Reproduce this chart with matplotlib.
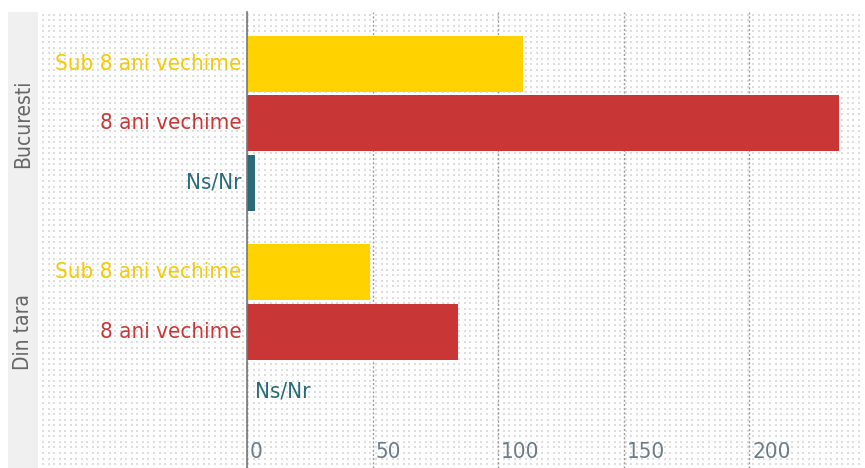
import numpy as np
import matplotlib
matplotlib.use("Agg")
import matplotlib.pyplot as plt
from matplotlib.transforms import blended_transform_factory, offset_copy, ScaledTranslation

# ---- data ----
groups = ["Bucuresti", "Din tara"]
series = ["Sub 8 ani vechime", "8 ani vechime", "Ns/Nr"]
bucuresti_values = [110, 236, 3]
din_tara_values = [49, 84, 0]
x_ticks = [0, 50, 100, 150, 200]

colors = ["#FFD200", "#C93636", "#2A6B7A"]
label_colors = ["#F8C800", "#C93636", "#2A6B7A"]

W, H = 865, 468
fig = plt.figure(figsize=(W / 100, H / 100), dpi=100)

# dotted background pattern + left grey strip (pixel styling only), rows from top
top_px, left_px, right_px, strip_l = 12, 38, 862, 8
img = np.ones((H, W, 3))
img[top_px:, strip_l:left_px] = (0.945, 0.945, 0.945)
ys = np.round(np.arange(top_px + 1.5, H, 5.55)).astype(int)
xs = np.round(np.arange(left_px + 4, right_px, 5.55)).astype(int)
for r in ys:
    for c in xs:
        img[r:r + 2, c:c + 2] = (0.87, 0.87, 0.87)
fig.figimage(img, 0, 0, zorder=-10, origin="upper")

font = ["DejaVu Sans"]
plt.rcParams["font.family"] = font
plt.rcParams["font.stretch"] = "condensed"

ax_left = 247 / W
ax = fig.add_axes([ax_left, 0, right_px / W - ax_left, 1 - top_px / H])
ax.patch.set_alpha(0)

slot = 59.5
pos = [[0, 1, 2], [3.5, 4.5, 5.5]]
all_vals = [bucuresti_values, din_tara_values]
bar_h = 56 / slot
for g in range(2):
    for s in range(3):
        ax.barh(pos[g][s], all_vals[g][s], height=bar_h, color=colors[s],
                zorder=3, linewidth=0)

y_top = -(64 - top_px) / slot
y_bot = (H - 64) / slot
ax.set_ylim(y_bot, y_top)
ax.set_xlim(0, (right_px - 247) / 2.51)

for sp in ["top", "right", "bottom"]:
    ax.spines[sp].set_visible(False)
ax.spines["left"].set_color("#777777")
ax.spines["left"].set_linewidth(1.2)
ax.spines["left"].set_zorder(4)

ax.set_yticks([])
ax.set_xticks(x_ticks)
ax.set_xticklabels([str(t) for t in x_ticks])
ax.tick_params(axis="x", direction="in", length=0, pad=-19, labelsize=16,
               labelcolor="#6b7c88")
for lbl in ax.get_xticklabels():
    lbl.set_horizontalalignment("left")
    lbl.set_fontstretch("condensed")
    lbl.set_transform(lbl.get_transform() + ScaledTranslation(3 / 100, 0, fig.dpi_scale_trans))

ax.grid(axis="x", color="#9a9a9a", linestyle=(0, (1.5, 1.5)), linewidth=1, zorder=1)
ax.set_axisbelow(True)

# series labels
for g in range(2):
    for s in range(3):
        v = all_vals[g][s]
        if v == 0:
            t = offset_copy(ax.transData, fig=fig, x=6, y=0, units="points")
            ax.text(0, pos[g][s], series[s], color=label_colors[s], fontsize=16,
                    fontstretch="condensed",
                    ha="left", va="center", transform=t, zorder=5)
        else:
            t = offset_copy(ax.transData, fig=fig, x=-4, y=0, units="points")
            ax.text(0, pos[g][s], series[s], color=label_colors[s], fontsize=16,
                    fontstretch="condensed",
                    ha="right", va="center", transform=t, clip_on=False, zorder=5)

# group labels
for g in range(2):
    yc = np.mean(pos[g])
    tr = blended_transform_factory(fig.transFigure, ax.transData)
    ax.text(23 / W, yc, groups[g], rotation=90, color="#666666", fontsize=15,
            fontstretch="condensed",
            ha="center", va="center", transform=tr, clip_on=False)

fig.savefig("out.png", dpi=100)
